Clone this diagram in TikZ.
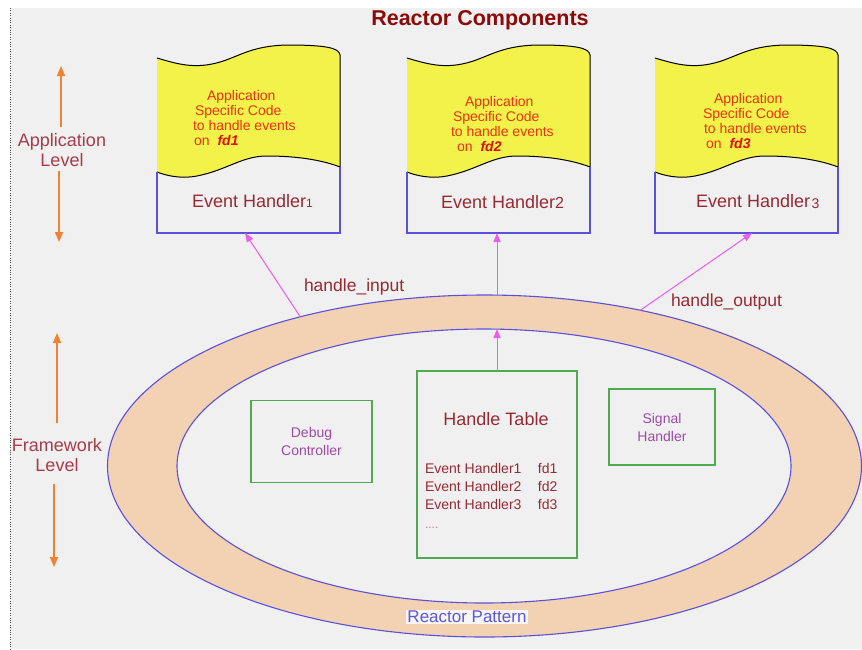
\documentclass[tikz,border=0pt]{standalone}
\usepackage{fontspec}
\setmainfont{Liberation Sans}
\usetikzlibrary{shapes.geometric,arrows.meta,calc}

\definecolor{bgc}{RGB}{240,240,240}
\definecolor{ringfill}{RGB}{242,210,178}
\definecolor{ringblue}{RGB}{90,80,220}
\definecolor{codeyel}{RGB}{242,242,74}
\definecolor{codered}{RGB}{232,52,20}
\definecolor{fdred}{RGB}{222,16,16}
\definecolor{boxgreen}{RGB}{80,170,80}
\definecolor{arrowpink}{RGB}{240,90,240}
\definecolor{levelorange}{RGB}{240,130,50}
\definecolor{labelred}{RGB}{150,42,52}
\definecolor{levelred}{RGB}{165,60,75}
\definecolor{titlered}{RGB}{140,10,10}
\definecolor{purpletext}{RGB}{155,75,165}
\definecolor{patternblue}{RGB}{95,85,215}
\definecolor{dotgray}{RGB}{176,130,130}

\newcommand{\setfs}[2]{\fontsize{#1}{#2}\selectfont}

% yellow code sheet with the event handler box under it
\newcommand{\handlershape}[1]{%
  \begin{scope}[shift={(#1,0)}]
    \fill[codeyel] (0,58) .. controls (20,64) and (35,68) .. (55,64)
      .. controls (80,59) and (90,46) .. (130,45)
      .. controls (170,45) and (182,48) .. (183,55)
      -- (183,167) .. controls (165,160) and (140,156) .. (110,156)
      .. controls (85,156) and (70,170) .. (40,176)
      .. controls (25,179) and (10,176) .. (0,172) -- cycle;
    \draw[line width=1pt] (0,58) .. controls (20,64) and (35,68) .. (55,64)
      .. controls (80,59) and (90,46) .. (130,45)
      .. controls (170,45) and (182,48) .. (183,55)
      -- (183,167) .. controls (165,160) and (140,156) .. (110,156)
      .. controls (85,156) and (70,170) .. (40,176)
      .. controls (25,179) and (10,176) .. (0,172);
    \draw[draw=ringblue, line width=1.1pt] (0,172) -- (0,233) -- (183,233) -- (183,167);
  \end{scope}}

\newcommand{\codetext}[5]{%
  \begin{tabular}[t]{@{}l@{}}
    \hspace*{#1pt}Application\\
    \hspace*{#2pt}Specific Code\\
    \hspace*{#3pt}to handle events\\
    \hspace*{#4pt}on\hspace{8pt}{\color{fdred}\bfseries\itshape #5}
  \end{tabular}}

\begin{document}
\begin{tikzpicture}[x=1pt,y=-1pt,
  every node/.style={inner sep=0pt, outer sep=0pt},
  pinkarrow/.style={draw=arrowpink, line width=1pt, -{Triangle[length=9pt,width=7pt]}},
  lvlarrow/.style={draw=levelorange, line width=1.4pt, -{Triangle[length=10pt,width=8pt]}},
  greenbox/.style={draw=boxgreen, line width=1.3pt, align=center, text=purpletext,
    font=\setfs{14}{18}},
  ringshape/.style={ellipse, draw=ringblue, line width=1.1pt},
  codestyle/.style={anchor=base west, text=codered, font=\setfs{14}{15.3}},
  ehstyle/.style={anchor=base west, text=labelred, font=\setfs{18}{20}},
  lbl/.style={text=labelred, font=\setfs{17.5}{20}},
  levellbl/.style={align=center, text=levelred, font=\setfs{18}{20.5}},
  hitbox/.style={minimum width=183pt, minimum height=176pt}]

\useasboundingbox (0,0) rectangle (862,649);
\fill[white] (0,0) rectangle (862,649);
\fill[bgc] (10,8) rectangle (862,649);
\draw[dotted, gray!60!black] (10,8) -- (10,649);

% title
\node[text=titlered, font=\bfseries\setfs{21.5}{24}] (title) at (480,20) {Reactor Components};

% reactor ring
\node[ringshape, fill=ringfill, minimum width=754pt, minimum height=342pt] (ring) at (484.5,466) {};
\node[ringshape, fill=bgc, minimum width=614pt, minimum height=274pt] (inner) at (484,466) {};
\node[text=patternblue, fill=bgc!60!white, inner sep=1pt, font=\setfs{17}{20}] (pattern) at (467,617) {Reactor Pattern};

% event handlers
\handlershape{157}
\handlershape{407}
\handlershape{655}
\node[hitbox] (eh1) at (248.5,145) {};
\node[hitbox] (eh2) at (498.5,145) {};
\node[hitbox] (eh3) at (746.5,145) {};

\node[codestyle] (code1) at (193,100) {\codetext{14}{2}{0}{1}{fd1}};
\node[codestyle] (code2) at (451,106) {\codetext{14}{2}{0}{6}{fd2}};
\node[codestyle] (code3) at (703,103) {\codetext{11}{0}{1}{3}{fd3}};

\node[ehstyle] (name1) at (192,207) {Event Handler{\setfs{12}{12}1}};
\node[ehstyle] (name2) at (441,208) {Event Handler{\setfs{16}{16}2}};
\node[ehstyle] (name3) at (696,207) {Event Handler{\setfs{14}{14}\hspace{1.5pt}\raisebox{-1.5pt}{3}}};

% framework components
\node[greenbox, minimum width=121pt, minimum height=82pt] (dbg) at (311.5,441.5) {Debug\\Controller};
\node[greenbox, minimum width=106pt, minimum height=76pt] (sig) at (662,427) {Signal\\Handler};
\node[draw=boxgreen, line width=1.3pt, minimum width=160pt, minimum height=187pt] (tbl) at (497,464.5) {};
\node[anchor=base, text=labelred, font=\setfs{18}{20}] (tbltitle) at (496,425) {Handle Table};
\node[anchor=base west, text=labelred, font=\setfs{14}{18}] (tblrows) at (425,473) {%
  \begin{tabular}[t]{@{}l@{}}
    \makebox[113pt][l]{Event Handler1}fd1\\
    \makebox[113pt][l]{Event Handler2}fd2\\
    \makebox[113pt][l]{Event Handler3}fd3\\[1pt]
    {\color{dotgray}\setfs{12}{18}....}
  \end{tabular}};

% dispatch arrows
\draw[pinkarrow] (ring.141) -- ($(eh1.south)+(-3.5,0)$);
\draw[pinkarrow] (ring.north -| tbl.north) -- (eh2.south -| tbl.north);
\draw[pinkarrow] (ring.45) -- ($(eh3.south)+(5.5,0)$);
\draw[pinkarrow] (tbl.north) -- (inner.north -| tbl.north);
\node[lbl, anchor=base west] (hin) at (304,291) {handle\_input};
\node[lbl, anchor=base west] (hout) at (671,306) {handle\_output};

% level markers
\node[levellbl] (applvl) at (62,150) {Application\\Level};
\node[levellbl] (fwlvl) at (57,455) {Framework\\Level};
\coordinate (appTop) at (61,66);
\coordinate (appBot) at (59,242);
\coordinate (fwTop) at (57,333);
\coordinate (fwBot) at (54,567);
\draw[lvlarrow] (appTop |- 0,127) -- (appTop);
\draw[lvlarrow] (appBot |- applvl.south) ++(0,4) -- (appBot);
\draw[lvlarrow] (fwTop |- fwlvl.north) ++(0,-15) -- (fwTop);
\draw[lvlarrow] (fwBot |- fwlvl.south) ++(0,12) -- (fwBot);
\end{tikzpicture}
\end{document}
